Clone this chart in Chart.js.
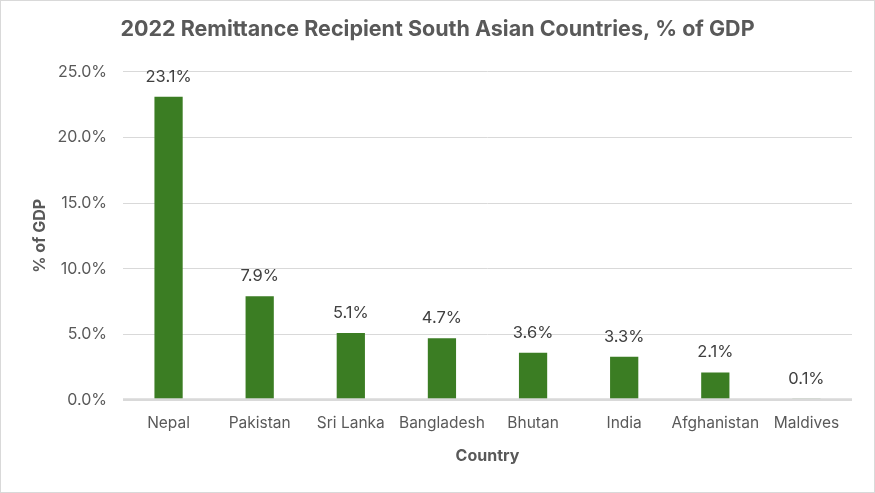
<!DOCTYPE html>
<html>
<head>
<meta charset="utf-8">
<script src="https://cdn.jsdelivr.net/npm/chart.js@4"></script>
<style>
    html, body { margin: 0; padding: 0; background: #fff; }
    #wrap {
        width: 875px;
        height: 493px;
        box-sizing: border-box;
        border: 1px solid #d9d9d9;
    }
</style>
</head>
<body>
<div id="wrap"><canvas id="chart" width="873" height="491"></canvas></div>
<script>
const countries = ['Nepal', 'Pakistan', 'Sri Lanka', 'Bangladesh', 'Bhutan', 'India', 'Afghanistan', 'Maldives'];
const remittancePct = [23.1, 7.9, 5.1, 4.7, 3.6, 3.3, 2.1, 0.1];
const yTicks = [0, 5, 10, 15, 20, 25];

const fontFamily = 'Inter, "Open Sans", sans-serif';

// draws the value above each bar, like Excel data labels
const barLabels = {
    id: 'barLabels',
    afterDatasetsDraw(chart) {
        const ctx = chart.ctx;
        const meta = chart.getDatasetMeta(0);
        ctx.save();
        ctx.font = '16.5px ' + fontFamily;
        ctx.fillStyle = '#404040';
        ctx.textAlign = 'center';
        ctx.textBaseline = 'middle';
        meta.data.forEach((bar, i) => {
            ctx.fillText(remittancePct[i].toFixed(1) + '%', bar.x, bar.y - 20);
        });
        // axis line sits over the bar bases
        const x = chart.scales.x;
        ctx.strokeStyle = '#d9d9d9';
        ctx.lineWidth = 2.5;
        ctx.beginPath();
        ctx.moveTo(x.left, x.top - 0.5);
        ctx.lineTo(x.right, x.top - 0.5);
        ctx.stroke();
        ctx.restore();
    }
};

const ctx = document.getElementById('chart').getContext('2d');
new Chart(ctx, {
    type: 'bar',
    data: {
        labels: countries,
        datasets: [{
            label: '% of GDP',
            data: remittancePct,
            backgroundColor: '#3b7d23',
            categoryPercentage: 1,
            barPercentage: 0.31
        }]
    },
    options: {
        responsive: false,
        animation: false,
        layout: { padding: { left: 22, right: 22 } },
        scales: {
            x: {
                afterFit: scale => { scale.height = 92; },
                grid: { display: false, drawTicks: false },
                border: { display: false },
                ticks: {
                    color: '#595959',
                    font: { family: fontFamily, size: 15.5 },
                    padding: 14,
                    autoSkip: false,
                    minRotation: 0,
                    maxRotation: 0
                },
                title: {
                    display: true,
                    text: 'Country',
                    color: '#595959',
                    font: { family: fontFamily, size: 16, weight: 'bold' },
                    padding: { top: 0, bottom: 26 }
                }
            },
            y: {
                min: 0,
                max: yTicks[yTicks.length - 1],
                afterFit: scale => { scale.width = 100; },
                afterBuildTicks: scale => {
                    scale.ticks = yTicks.map(v => ({ value: v }));
                },
                grid: { color: '#d9d9d9', drawTicks: false },
                border: { display: false },
                ticks: {
                    color: '#595959',
                    font: { family: fontFamily, size: 16 },
                    padding: 16,
                    callback: v => v.toFixed(1) + '%'
                },
                title: {
                    display: true,
                    text: '% of GDP',
                    color: '#595959',
                    font: { family: fontFamily, size: 16, weight: 'bold' },
                    padding: { top: 8, bottom: 0 }
                }
            }
        },
        plugins: {
            legend: { display: false },
            tooltip: { enabled: false },
            title: {
                display: true,
                text: '2022 Remittance Recipient South Asian Countries, % of GDP',
                color: '#595959',
                font: { family: fontFamily, size: 21.5, weight: 'bold' },
                padding: { top: 16, bottom: 29 }
            }
        }
    },
    plugins: [barLabels]
});
</script>
</body>
</html>
